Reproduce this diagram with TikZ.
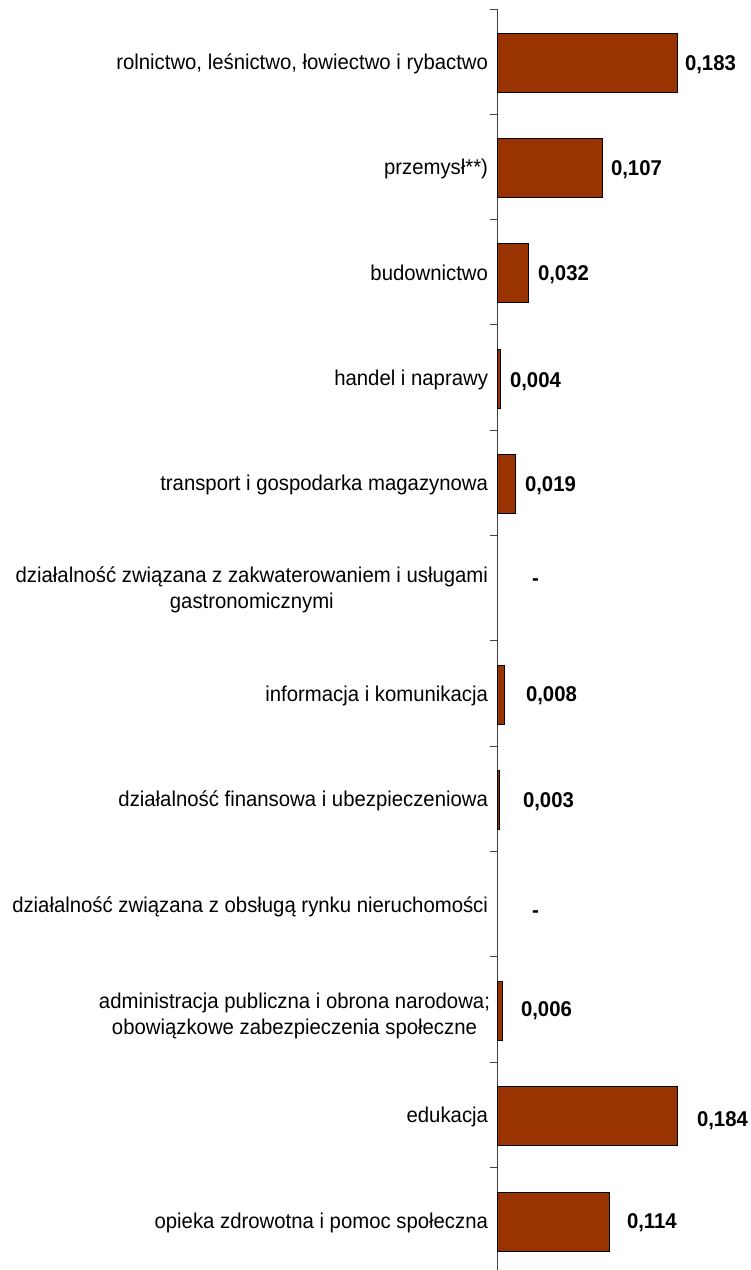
\documentclass[tikz,border=0pt]{standalone}
\usepackage{fontspec}
\setmainfont[FakeStretch=0.95]{Liberation Sans}
\definecolor{barfill}{HTML}{993300}
\definecolor{axisgray}{HTML}{404040}
\begin{document}
\begin{tikzpicture}[x=1pt,y=-1pt,
  every node/.style={inner sep=0pt, outer sep=0pt},
  bar/.style={draw=black, line width=0.9pt, fill=barfill, minimum height=59pt, anchor=west},
  cat/.style={anchor=base east, font=\fontsize{21.4}{26.5}\selectfont},
  cattwo/.style={anchor=east, align=center, font=\fontsize{21.4}{26.5}\selectfont},
  val/.style={anchor=base west, font=\fontsize{21.4}{26}\selectfont\bfseries},
  axisline/.style={draw=axisgray, line width=1pt}]
\useasboundingbox (0,0) rectangle (751,1270);
% axis
\coordinate (atop) at (497,9);
\coordinate (abot) at (497,1270);
\draw[axisline] (atop) -- (abot);
\foreach \k in {0,...,11}{
  \coordinate (t\k) at (497,{9+105.33*\k});
  \coordinate (tl\k) at (490,{9+105.33*\k});
  \draw[axisline] (tl\k) -- (t\k);
}
% bars
\node[bar, minimum width=180pt]   (b0)  at (497,62.5) {};
\node[bar, minimum width=105.2pt] (b1)  at (497,167.8) {};
\node[bar, minimum width=31.5pt]  (b2)  at (497,273.1) {};
\node[bar, minimum width=3.9pt]   (b3)  at (497,378.5) {};
\node[bar, minimum width=18.7pt]  (b4)  at (497,483.8) {};
\node[bar, minimum width=7.9pt]   (b6)  at (497,694.5) {};
\node[bar, minimum width=2.9pt]   (b7)  at (497,799.8) {};
\node[bar, minimum width=5.9pt]   (b9)  at (497,1010.5) {};
\node[bar, minimum width=180.9pt] (b10) at (497,1116) {};
\node[bar, minimum width=112.1pt] (b11) at (497,1221.6) {};
% category labels
\node[cat] (c0) at (488,69.5) {rolnictwo, leśnictwo, łowiectwo i rybactwo};
\node[cat] (c1) at (488,174.8) {przemysł**)};
\node[cat] (c2) at (488,280.2) {budownictwo};
\node[cat] (c3) at (488,385.5) {handel i naprawy};
\node[cat] (c4) at (488,490.8) {transport i gospodarka magazynowa};
\node[cattwo] (c5) at (488,590) {działalność związana z zakwaterowaniem i usługami\\gastronomicznymi};
\node[cat] (c6) at (488,701.5) {informacja i komunikacja};
\node[cat] (c7) at (488,806.8) {działalność finansowa i ubezpieczeniowa};
\node[cat] (c8) at (488,912.1) {działalność związana z obsługą rynku nieruchomości};
\node[cattwo] (c9) at (490,1016) {administracja publiczna i obrona narodowa;\\obowiązkowe zabezpieczenia społeczne};
\node[cat] (c10) at (488,1122.8) {edukacja};
\node[cat] (c11) at (488,1228.1) {opieka zdrowotna i pomoc społeczna};
% value labels
\node[val] (v0)  at (685,70.0) {0,183};
\node[val] (v1)  at (611,175.0) {0,107};
\node[val] (v2)  at (538,280.0) {0,032};
\node[val] (v3)  at (510,387.5) {0,004};
\node[val] (v4)  at (525,491.0) {0,019};
\node[val] (v5)  at (532,585) {-};
\node[val] (v6)  at (526,701.0) {0,008};
\node[val] (v7)  at (523,807.0) {0,003};
\node[val] (v8)  at (532,917.5) {-};
\node[val] (v9)  at (521,1016.0) {0,006};
\node[val] (v10) at (697,1126.0) {0,184};
\node[val] (v11) at (627,1228.0) {0,114};
\end{tikzpicture}
\end{document}
